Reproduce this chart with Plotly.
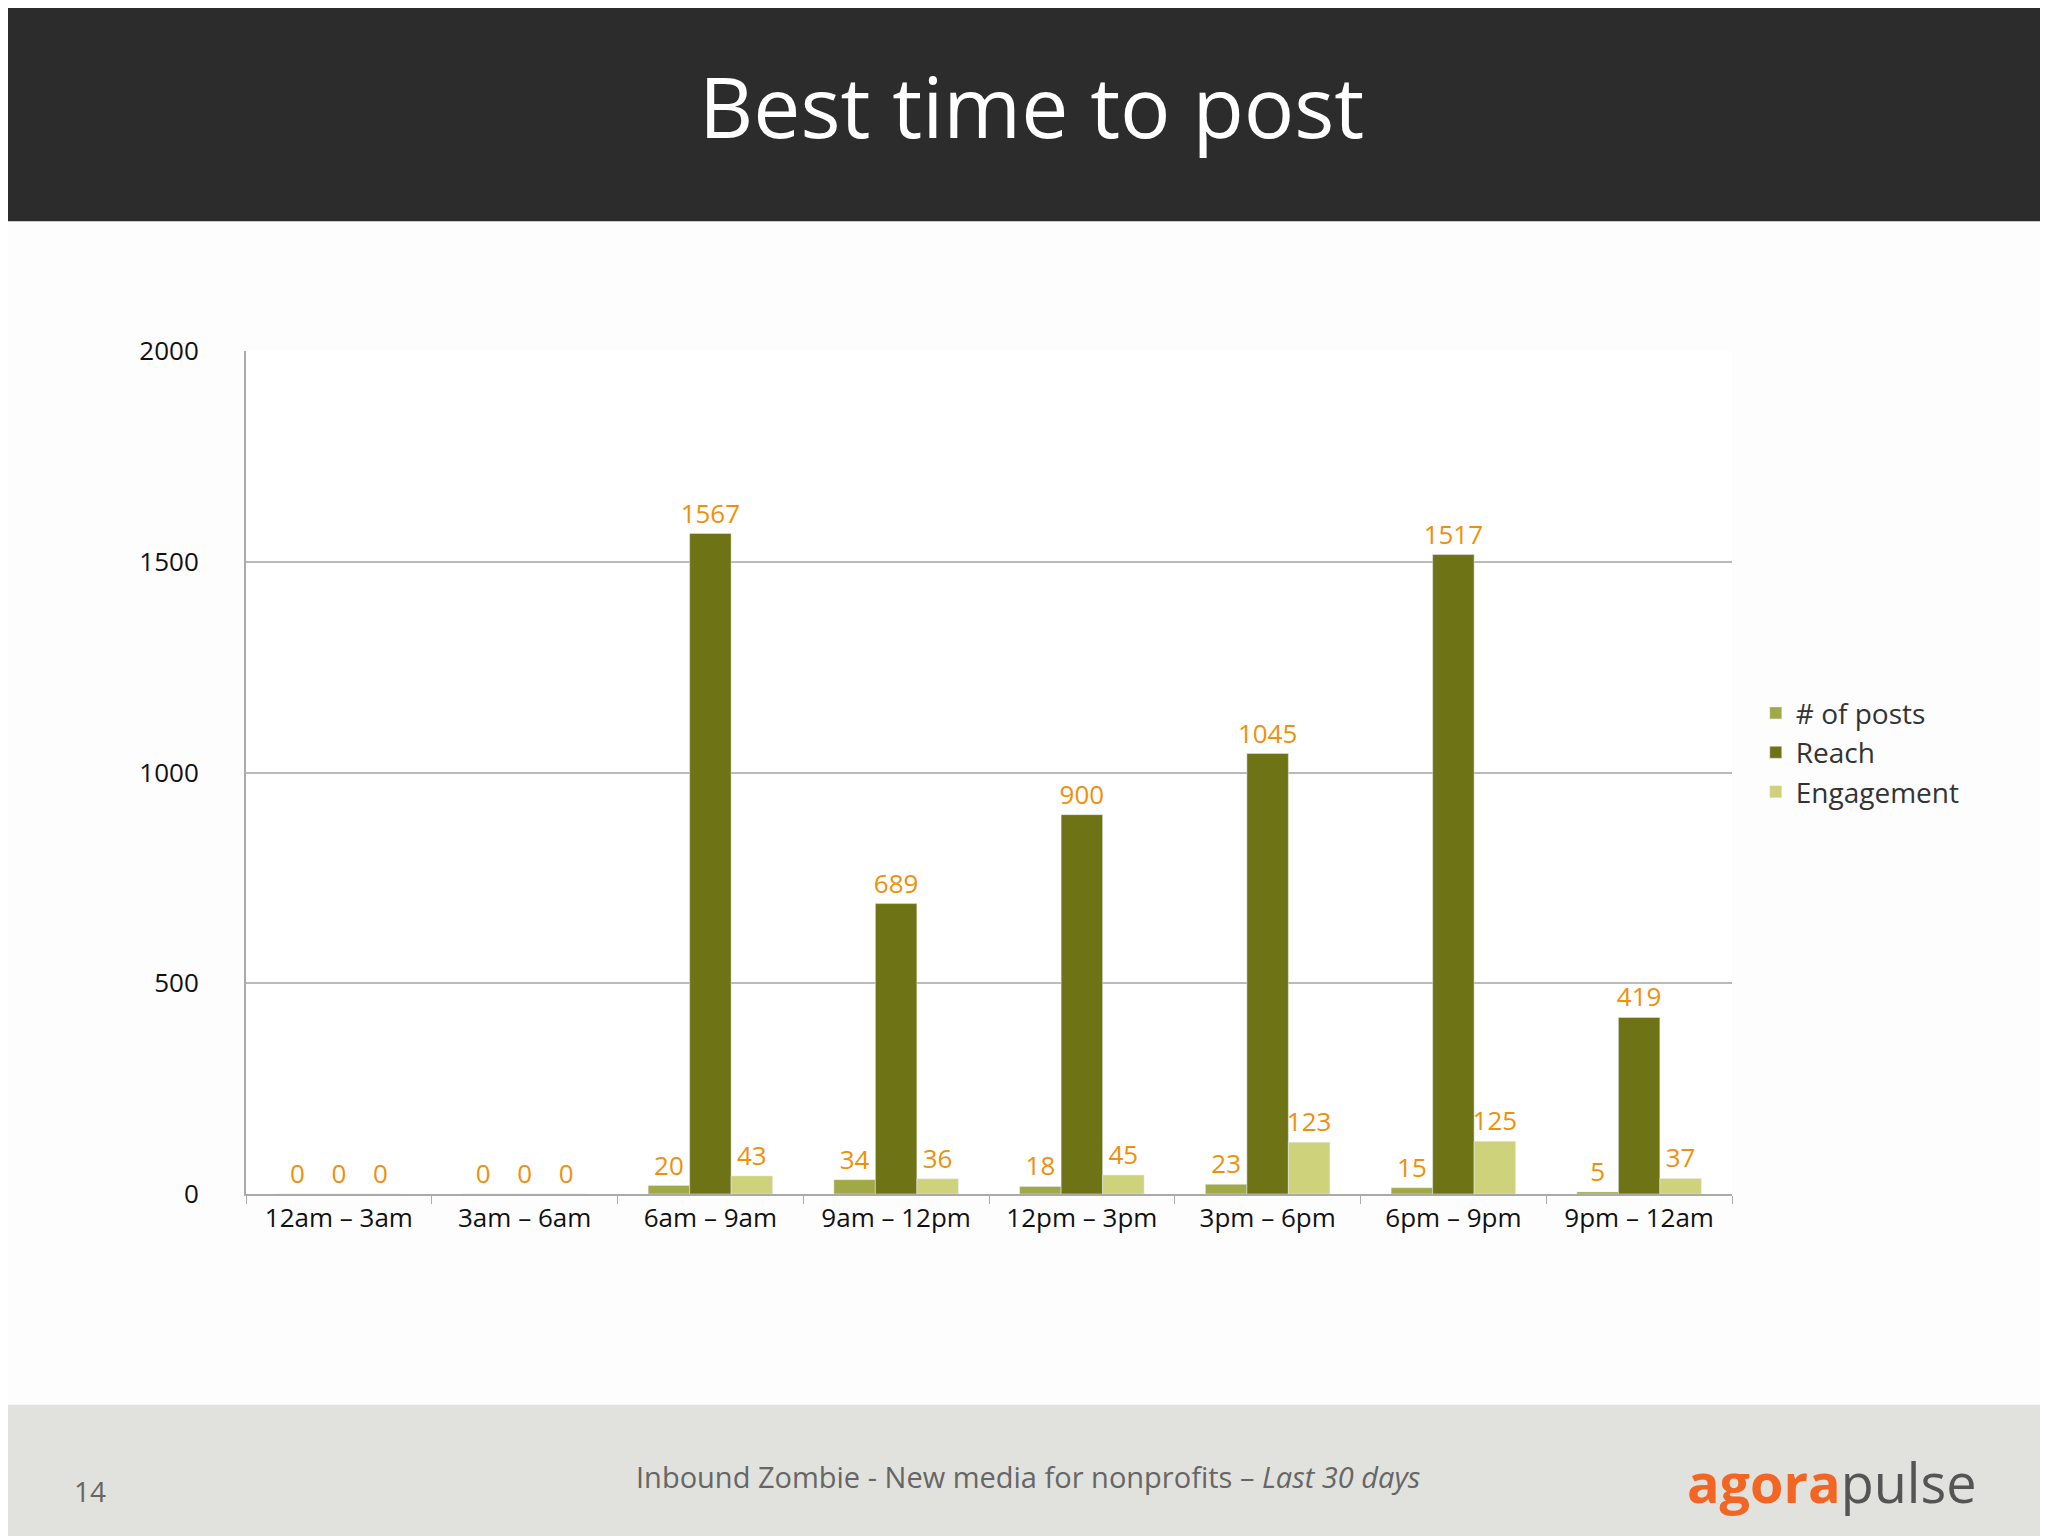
import plotly.graph_objects as go

categories = ["12am – 3am", "3am – 6am", "6am – 9am", "9am – 12pm", "12pm – 3pm", "3pm – 6pm", "6pm – 9pm", "9pm – 12am"]
posts = [0, 0, 20, 34, 18, 23, 15, 5]
reach = [0, 0, 1567, 689, 900, 1045, 1517, 419]
engagement = [0, 0, 43, 36, 45, 123, 125, 37]

FONT = "Open Sans"
ORANGE = "#f0900a"
fig = go.Figure()
for name, vals, col in [("# of posts", posts, "#a1a846"), ("Reach", reach, "#6e7415"), ("Engagement", engagement, "#cdd27b")]:
    fig.add_trace(go.Bar(x=categories, y=vals, name=name, marker_color=col,
                         text=[str(v) for v in vals], textposition="outside", cliponaxis=False,
                         constraintext="none",
                         textfont=dict(color=ORANGE, size=26, family=FONT)))

fig.update_layout(
    width=2048, height=1536, paper_bgcolor="#fdfdfe", plot_bgcolor="white",
    margin=dict(l=238, r=324, t=343, b=350),
    barmode="group", bargap=0.33, bargroupgap=0,
    font=dict(family=FONT, color="#111", size=26),
    legend=dict(x=1.016, y=0.60, xanchor="left", yanchor="top", font=dict(size=28, color="#333"),
                bgcolor="rgba(0,0,0,0)", tracegroupgap=0),
    showlegend=True,
)
fig.update_yaxes(range=[0, 2000], tickvals=[0, 500, 1000, 1500, 2000], gridcolor="#bbbbbb", gridwidth=2,
                 showline=True, linecolor="#aaa", linewidth=2, ticks="", zeroline=False, ticklabelstandoff=40)
fig.update_xaxes(showline=True, linecolor="#aaa", linewidth=2, ticks="outside", ticklen=8, tickcolor="#aaa",
                 tickson="boundaries", showgrid=False)

shapes = [
    dict(type="rect", xref="paper", yref="paper", x0=-0.2, x1=1.3, y0=1.154, y1=1.5, fillcolor="#2c2c2c", line_width=0, layer="below"),
    dict(type="rect", xref="paper", yref="paper", x0=-0.2, x1=1.3, y0=-0.5, y1=-0.250, fillcolor="#e1e2dd", line_width=0, layer="below"),
]
fig.update_layout(shapes=shapes)

def ann(text, px, py, size, color, **kw):
    fig.add_annotation(text=text, xref="paper", yref="paper", x=(px-238)/1486, y=(1536-py-350)/843,
                       xanchor="center", yanchor="middle", showarrow=False,
                       font=dict(size=size, color=color, family=FONT), **kw)

ann("Best time to post", 1023, 98, 84, "white")
ann("Inbound Zombie - New media for nonprofits – <i>Last 30 days</i>", 1020, 1468, 29, "#666")
ann("14", 82, 1483, 28, "#666")
ann("<b><span style='color:#f26522'>agora</span></b><span style='color:#555'>pulse</span>", 1824, 1474, 54, "#555")
fig.write_html("out.html")
